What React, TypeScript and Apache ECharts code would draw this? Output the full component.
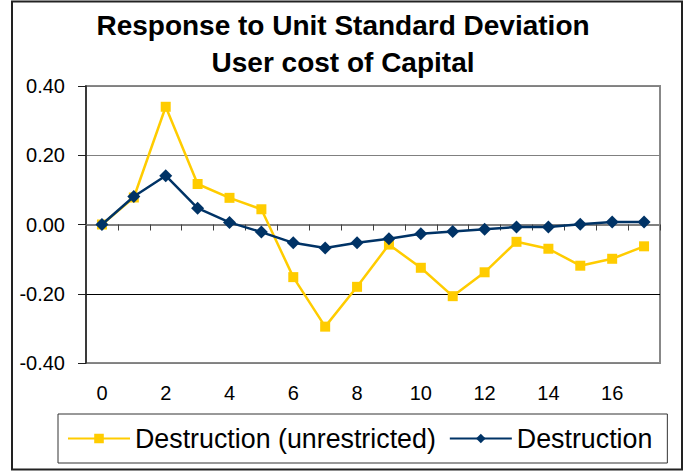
import React, { useEffect, useRef } from "react";
import * as echarts from "echarts";

const periods = ["0","1","2","3","4","5","6","7","8","9","10","11","12","13","14","15","16","17"];
const unrestricted = [0.0, 0.078, 0.34, 0.117, 0.077, 0.044, -0.152, -0.295, -0.18, -0.058, -0.125, -0.207, -0.138, -0.05, -0.07, -0.119, -0.099, -0.063];
const destruction = [0.0, 0.081, 0.141, 0.047, 0.006, -0.022, -0.053, -0.068, -0.053, -0.041, -0.027, -0.02, -0.014, -0.007, -0.007, 0.001, 0.007, 0.007];
const titleLines = ["Response to Unit Standard Deviation", "User cost of Capital"];
const seriesNames = ["Destruction (unrestricted)", "Destruction"];

const FONT = "'Liberation Sans', Arial, sans-serif";

export default function App() {
  const ref = useRef<HTMLDivElement>(null);
  useEffect(() => {
    document.body.style.margin = "0";
    const chart = echarts.init(ref.current!, null, { renderer: "svg" });
    chart.setOption({
      animation: false,
      backgroundColor: "#ffffff",
      textStyle: { fontFamily: FONT },
      title: {
        text: titleLines.join("\n"),
        left: "center",
        top: 7,
        padding: 0,
        textStyle: { fontSize: 28, fontWeight: "bold", color: "#000", lineHeight: 37, fontFamily: FONT },
      },
      graphic: [
        { type: "rect", shape: { x: 12, y: 1.5, width: 670, height: 468 }, style: { fill: "none", stroke: "#222", lineWidth: 2 }, silent: true },
      ],
      legend: {
        left: 58,
        top: 414,
        orient: "horizontal",
        padding: [11, 15, 11, 9],
        itemGap: 13,
        itemWidth: 62,
        itemHeight: 12,
        borderColor: "#333",
        borderWidth: 1,
        textStyle: { fontSize: 26.8, color: "#000", fontFamily: FONT },
        data: seriesNames,
      },
      grid: { left: 86, top: 86, width: 574, height: 277, show: true, borderColor: "#888888", borderWidth: 2, backgroundColor: "transparent" },
      xAxis: [
        {
          type: "category",
          data: periods,
          boundaryGap: true,
          position: "bottom",
          axisLine: { onZero: true, lineStyle: { color: "#808080", width: 2 } },
          axisTick: { show: true, interval: 0, length: 6, lineStyle: { color: "#404040" } },
          axisLabel: { show: false },
          splitLine: { show: false },
        },
        {
          type: "category",
          data: periods,
          boundaryGap: true,
          position: "bottom",
          axisLine: { show: false, onZero: false },
          axisTick: { show: false },
          axisLabel: { show: true, interval: 1, margin: 20, fontSize: 20, color: "#000", fontFamily: FONT },
          splitLine: { show: false },
        },
      ],
      yAxis: {
        type: "value",
        min: -0.4,
        max: 0.4,
        interval: 0.2,
        axisLine: { show: true, lineStyle: { color: "#202020", width: 1.5 } },
        axisTick: { show: true, length: 8, lineStyle: { color: "#202020" } },
        axisLabel: { margin: 21, fontSize: 20, color: "#000", fontFamily: FONT, formatter: (v: number) => v.toFixed(2) },
        splitLine: { show: true, lineStyle: { color: ["#808080", "#000000", "#808080", "#808080", "#808080"], width: 1 } },
      },
      series: [
        {
          name: seriesNames[0],
          type: "line",
          xAxisIndex: 0,
          data: unrestricted,
          symbol: "rect",
          symbolSize: 10,
          lineStyle: { color: "#FFCC00", width: 2.5 },
          itemStyle: { color: "#FFCC00" },
          z: 3,
        },
        {
          name: seriesNames[1],
          type: "line",
          xAxisIndex: 0,
          data: destruction,
          symbol: "diamond",
          symbolSize: 13,
          lineStyle: { color: "#003366", width: 2.5 },
          itemStyle: { color: "#003366" },
          z: 4,
        },
      ],
    });
    return () => chart.dispose();
  }, []);
  return <div ref={ref} style={{ width: 686, height: 472 }} />;
}
